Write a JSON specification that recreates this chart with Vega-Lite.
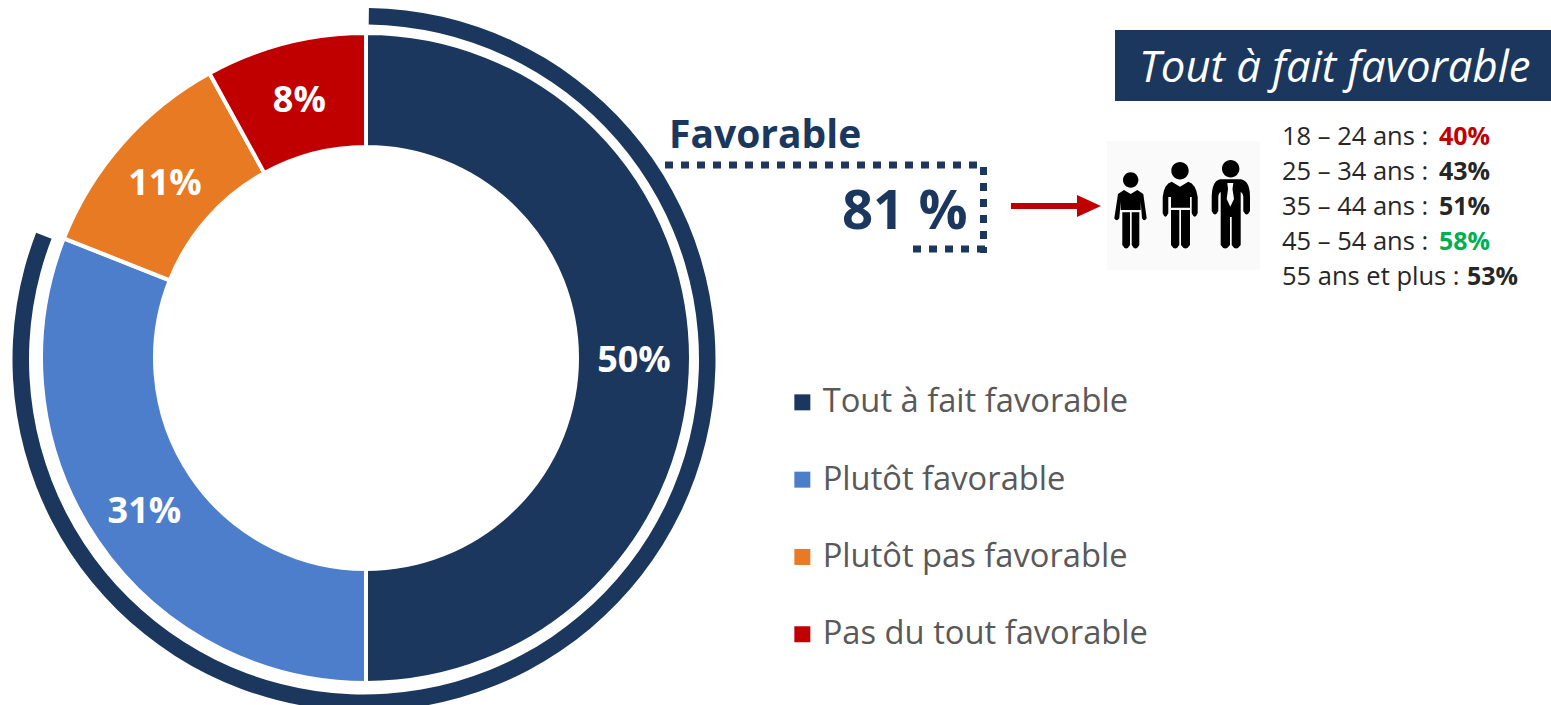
{
"$schema":"https://vega.github.io/schema/vega-lite/v6.json",
"width":1551,"height":705,"padding":0,
"autosize":{"type":"fit","contains":"padding"},
"background":"#ffffff",
"config":{"view":{"stroke":null},"axis":{"disable":true},"font":"Open Sans"},
"datasets":{
"reponses":[
{"reponse":"Tout à fait favorable","part":50,"rang":1,"libelle":"50%"},
{"reponse":"Plutôt favorable","part":31,"rang":2,"libelle":"31%"},
{"reponse":"Plutôt pas favorable","part":11,"rang":3,"libelle":"11%"},
{"reponse":"Pas du tout favorable","part":8,"rang":4,"libelle":"8%"}],
"total":[{"groupe":"Favorable","part":81,"rang":1},{"groupe":"Défavorable","part":19,"rang":2}],
"ages":[
{"age":"18 – 24 ans :","pct":40,"valeur":"40%"},
{"age":"25 – 34 ans :","pct":43,"valeur":"43%"},
{"age":"35 – 44 ans :","pct":51,"valeur":"51%"},
{"age":"45 – 54 ans :","pct":58,"valeur":"58%"},
{"age":"55 ans et plus :","pct":53,"valeur":"53%"}],
"un":[{"n":1}]
},
"resolve":{"scale":{"x":"independent","y":"independent","color":"independent","theta":"independent"}},
"layer":[
{"data":{"name":"reponses"},
 "mark":{"type":"arc","innerRadius":211,"outerRadius":325,"stroke":"#ffffff","strokeWidth":4},
 "encoding":{
  "x":{"datum":366,"type":"quantitative","scale":{"domain":[0,1551],"nice":false,"zero":false}},
  "y":{"datum":358,"type":"quantitative","scale":{"domain":[0,705],"nice":false,"zero":false,"reverse":true}},
  "theta":{"field":"part","type":"quantitative","stack":true},
  "order":{"field":"rang","type":"quantitative"},
  "color":{"field":"reponse","type":"nominal",
   "scale":{"domain":["Tout à fait favorable","Plutôt favorable","Plutôt pas favorable","Pas du tout favorable"],"range":["#1B375E","#4D7ECB","#E97A24","#C00000"]},
   "legend":{"orient":"none","legendX":786,"legendY":386,"title":null,"symbolType":"square","symbolSize":256,"symbolStrokeWidth":0,"labelFont":"Open Sans","labelFontSize":32.7,"labelColor":"#595959","labelLimit":500,"labelOffset":4,"rowPadding":43.3,"padding":0}}
 }},
{"data":{"name":"total"},
 "mark":{"type":"arc","innerRadius":335,"outerRadius":351.5,"color":"#1B375E","clip":true},
 "encoding":{
  "x":{"datum":364,"type":"quantitative","scale":{"domain":[0,1551],"nice":false,"zero":false}},
  "y":{"datum":359.5,"type":"quantitative","scale":{"domain":[0,705],"nice":false,"zero":false,"reverse":true}},
  "theta":{"field":"part","type":"quantitative","stack":true,"scale":{"range":[0.014,6.27]}},
  "order":{"field":"rang","type":"quantitative"},
  "opacity":{"condition":{"test":"datum.groupe==='Favorable'","value":1},"value":0}
 }},
{"data":{"name":"reponses"},
 "mark":{"type":"text","radius":268,"font":"Open Sans","fontWeight":"bold","fontSize":36,"color":"#ffffff","align":"center","baseline":"middle"},
 "encoding":{
  "x":{"datum":366,"type":"quantitative","scale":{"domain":[0,1551],"nice":false,"zero":false}},
  "y":{"datum":361,"type":"quantitative","scale":{"domain":[0,705],"nice":false,"zero":false,"reverse":true}},
  "theta":{"field":"part","type":"quantitative","stack":true},
  "order":{"field":"rang","type":"quantitative"},
  "text":{"field":"libelle"}
 }},
{"data":{"name":"un"},"mark":{"type":"rect","color":"#1B375E"},
 "encoding":{
  "x":{"datum":1115,"type":"quantitative","scale":{"domain":[0,1551],"nice":false,"zero":false}},"x2":{"datum":1551},
  "y":{"datum":30,"type":"quantitative","scale":{"domain":[0,705],"nice":false,"zero":false,"reverse":true}},"y2":{"datum":101}
 }},
{"data":{"values":[{"t":"Tout à fait favorable"}]},"mark":{"type":"text","font":"Open Sans","fontStyle":"italic","fontSize":43.7,"color":"#ffffff","align":"left","baseline":"alphabetic"},
 "encoding":{
  "x":{"datum":1139,"type":"quantitative","scale":{"domain":[0,1551],"nice":false,"zero":false}},
  "y":{"datum":82,"type":"quantitative","scale":{"domain":[0,705],"nice":false,"zero":false,"reverse":true}},
  "text":{"field":"t"}
 }},
{"data":{"values":[{"t":"Favorable"}]},"mark":{"type":"text","font":"Open Sans","fontWeight":"bold","fontSize":39,"color":"#1B375E","align":"left","baseline":"alphabetic"},
 "encoding":{
  "x":{"datum":669,"type":"quantitative","scale":{"domain":[0,1551],"nice":false,"zero":false}},
  "y":{"datum":148,"type":"quantitative","scale":{"domain":[0,705],"nice":false,"zero":false,"reverse":true}},
  "text":{"field":"t"}
 }},
{"data":{"values":[{"t":"81 %"}]},"mark":{"type":"text","font":"Open Sans","fontWeight":"bold","fontSize":54.5,"color":"#1B375E","align":"right","baseline":"alphabetic"},
 "encoding":{
  "x":{"datum":967.5,"type":"quantitative","scale":{"domain":[0,1551],"nice":false,"zero":false}},
  "y":{"datum":229,"type":"quantitative","scale":{"domain":[0,705],"nice":false,"zero":false,"reverse":true}},
  "text":{"field":"t"}
 }},
{"data":{"name":"un"},"mark":{"type":"rule","color":"#1B375E","strokeWidth":7,"strokeDash":[8,8]},
 "encoding":{
  "x":{"datum":665,"type":"quantitative","scale":{"domain":[0,1551],"nice":false,"zero":false}},"x2":{"datum":980},
  "y":{"datum":165,"type":"quantitative","scale":{"domain":[0,705],"nice":false,"zero":false,"reverse":true}}
 }},
{"data":{"name":"un"},"mark":{"type":"rule","color":"#1B375E","strokeWidth":7,"strokeDash":[8,8]},
 "encoding":{
  "x":{"datum":983.5,"type":"quantitative","scale":{"domain":[0,1551],"nice":false,"zero":false}},
  "y":{"datum":167,"type":"quantitative","scale":{"domain":[0,705],"nice":false,"zero":false,"reverse":true}},"y2":{"datum":253}
 }},
{"data":{"name":"un"},"mark":{"type":"rule","color":"#1B375E","strokeWidth":7,"strokeDash":[8,8]},
 "encoding":{
  "x":{"datum":913,"type":"quantitative","scale":{"domain":[0,1551],"nice":false,"zero":false}},"x2":{"datum":987},
  "y":{"datum":249,"type":"quantitative","scale":{"domain":[0,705],"nice":false,"zero":false,"reverse":true}}
 }},
{"data":{"name":"un"},"mark":{"type":"rule","color":"#C00000","strokeWidth":6},
 "encoding":{
  "x":{"datum":1011,"type":"quantitative","scale":{"domain":[0,1551],"nice":false,"zero":false}},"x2":{"datum":1085},
  "y":{"datum":206,"type":"quantitative","scale":{"domain":[0,705],"nice":false,"zero":false,"reverse":true}}
 }},
{"data":{"name":"un"},"mark":{"type":"point","filled":true,"shape":"M-16,-11 L8,0 L-16,11 Z","size":4,"color":"#C00000","opacity":1},
 "encoding":{
  "x":{"datum":1093,"type":"quantitative","scale":{"domain":[0,1551],"nice":false,"zero":false}},
  "y":{"datum":206,"type":"quantitative","scale":{"domain":[0,705],"nice":false,"zero":false,"reverse":true}}
 }},
{"data":{"name":"un"},"mark":{"type":"rect","color":"#FAFAFA"},
 "encoding":{
  "x":{"datum":1107,"type":"quantitative","scale":{"domain":[0,1551],"nice":false,"zero":false}},"x2":{"datum":1260},
  "y":{"datum":141,"type":"quantitative","scale":{"domain":[0,705],"nice":false,"zero":false,"reverse":true}},"y2":{"datum":270}
 }},
{"data":{"name":"un"},"mark":{"type":"point","filled":true,"size":4,"color":"#000000","opacity":1,
 "shape":"M-57,-25 a7.7,7.7 0 1,0 15.4,0 a7.7,7.7 0 1,0 -15.4,0 Z M-56,-15 L-49.3,-11 L-42.7,-15 L-36.7,-11 L-33.3,13.3 Q-35.7,17 -38,13.3 L-39.3,-3.3 L-39.3,5 L-59.3,5 L-59.3,-3.3 L-60.7,13.3 Q-63.3,17 -65.7,13.3 L-62,-11 Z M-57.7,7.3 L-50,7.3 L-50,40 Q-53.8,47 -57.7,40 Z M-48.3,7.3 L-40.7,7.3 L-40.7,40 Q-44.5,47 -48.3,40 Z M-8.7,-34.3 a8.7,8.7 0 1,0 17.4,0 a8.7,8.7 0 1,0 -17.4,0 Z M-8.3,-23.3 L0,-18.3 L8.3,-23.3 Q16,-21 17.7,-8 L17.7,8.3 Q14.7,15 11.7,8.3 L11.7,-8 L10,-8 L10,2.7 L-9,2.7 L-9,-8 L-11.7,-8 L-11.7,8.3 Q-14.7,15 -17.3,8.3 L-17.3,-8 Q-16,-21 -8.3,-23.3 Z M-9,5 L-0.7,5 L-0.7,40 Q-4.8,47 -9,40 Z M1,5 L10,5 L10,40 Q5.5,47 1,40 Z M42,-36.3 a8.7,8.7 0 1,0 17.4,0 a8.7,8.7 0 1,0 -17.4,0 Z M40,-25.7 L61,-25.7 Q70,-24 70,-8 L70,6 Q66.7,13 63.3,6 L63.3,-8 Q63,-12 60.7,-13 L60.7,40 Q56,47 51.7,40 L51.7,12 L50,12 L50,40 Q45,47 40.7,40 L40.7,-13 Q38.5,-12 38.3,-8 L38.3,6 Q35,13 31.7,6 L31.7,-8 Q32,-24 40,-25.7 Z M47.3,-22 L48,-16 L46.7,-6 L50.3,1.7 L54,-6 L52.5,-16 L53.3,-22 Z"},
 "encoding":{
  "x":{"datum":1180,"type":"quantitative","scale":{"domain":[0,1551],"nice":false,"zero":false}},
  "y":{"datum":205,"type":"quantitative","scale":{"domain":[0,705],"nice":false,"zero":false,"reverse":true}}
 }},
{"data":{"name":"ages"},"mark":{"type":"text","font":"Open Sans","fontSize":25.5,"color":"#262626","align":"left","baseline":"middle"},
 "encoding":{
  "x":{"datum":1282,"type":"quantitative","scale":{"domain":[0,1551],"nice":false,"zero":false}},
  "y":{"field":"age","type":"ordinal","sort":null,"scale":{"type":"point","padding":0,"range":[136.5,276.5]}},
  "text":{"field":"age"}
 }},
{"data":{"name":"ages"},"transform":[{"filter":"datum.pct!==53"}],
 "mark":{"type":"text","font":"Open Sans","fontWeight":"bold","fontSize":25,"align":"left","baseline":"middle"},
 "encoding":{
  "x":{"datum":1439,"type":"quantitative","scale":{"domain":[0,1551],"nice":false,"zero":false}},
  "y":{"field":"age","type":"ordinal","sort":null,"scale":{"type":"point","padding":0,"range":[136.5,241.5]}},
  "text":{"field":"valeur"},
  "color":{"condition":[{"test":"datum.pct===40","value":"#C00000"},{"test":"datum.pct===58","value":"#00B050"}],"value":"#262626"}
 }},
{"data":{"name":"ages"},"transform":[{"filter":"datum.pct===53"}],
 "mark":{"type":"text","font":"Open Sans","fontWeight":"bold","fontSize":25,"color":"#262626","align":"left","baseline":"middle"},
 "encoding":{
  "x":{"datum":1467,"type":"quantitative","scale":{"domain":[0,1551],"nice":false,"zero":false}},
  "y":{"datum":276.5,"type":"quantitative","scale":{"domain":[0,705],"nice":false,"zero":false,"reverse":true}},
  "text":{"field":"valeur"}
 }}
]
}
